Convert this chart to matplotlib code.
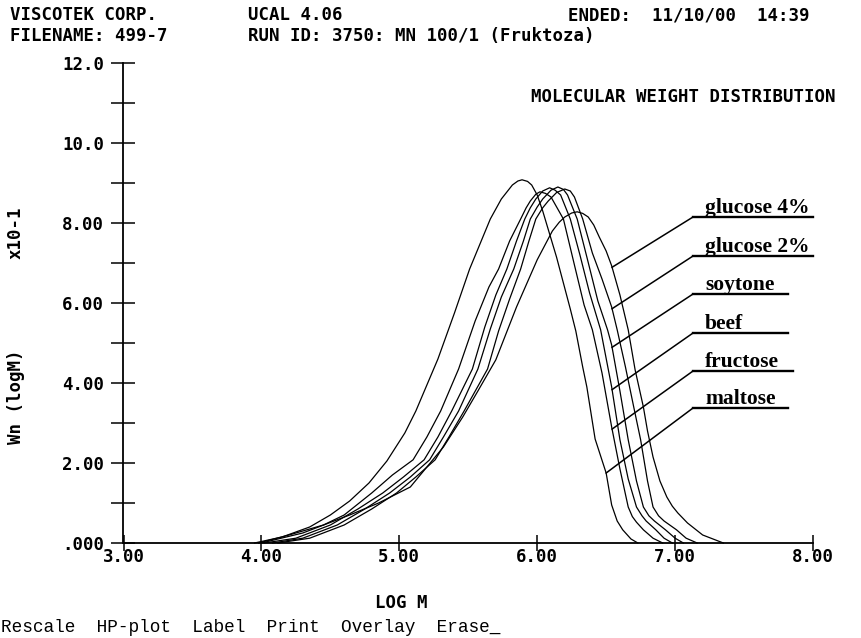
import numpy as np
import matplotlib
matplotlib.use("Agg")
import matplotlib.pyplot as plt

# ---------------- data ----------------
names = ["glucose 4%", "glucose 2%", "soytone", "beef", "fructose", "maltose"]

logm_glucose4 = [4.00, 4.30, 4.64, 4.85, 5.08, 5.20, 5.32, 5.46, 5.57, 5.70, 5.85, 6.00, 6.11, 6.16,
                 6.20, 6.25, 6.29, 6.33, 6.37, 6.41, 6.45, 6.50, 6.54, 6.60, 6.66, 6.71, 6.77, 6.80,
                 6.84, 6.89, 6.94, 6.98, 7.02, 7.09, 7.20, 7.35]
wn_glucose4 = [0.00, 0.25, 0.70, 1.00, 1.40, 1.90, 2.40, 3.15, 3.80, 4.58, 5.90, 7.08, 7.80, 8.02,
               8.15, 8.25, 8.28, 8.24, 8.15, 7.95, 7.65, 7.30, 6.93, 6.20, 5.33, 4.33, 3.40, 2.80,
               2.15, 1.55, 1.15, 0.92, 0.75, 0.50, 0.20, 0.00]

logm_glucose2 = [4.12, 4.35, 4.60, 4.80, 4.98, 5.12, 5.26, 5.36, 5.47, 5.64, 5.72, 5.80, 5.88, 5.94,
                 5.99, 6.04, 6.08, 6.14, 6.20, 6.24, 6.27, 6.33, 6.40, 6.47, 6.54, 6.58, 6.64, 6.70,
                 6.75, 6.80, 6.84, 6.88, 6.92, 7.01, 7.08, 7.16]
wn_glucose2 = [0.00, 0.12, 0.45, 0.85, 1.25, 1.65, 2.08, 2.65, 3.30, 4.35, 5.30, 6.10, 6.85, 7.55,
               8.10, 8.38, 8.55, 8.76, 8.85, 8.80, 8.65, 8.10, 7.25, 6.60, 5.90, 5.33, 4.40, 3.40,
               2.58, 1.55, 0.90, 0.68, 0.55, 0.33, 0.12, 0.00]

logm_soytone = [4.08, 4.30, 4.55, 4.75, 4.93, 5.08, 5.22, 5.32, 5.43, 5.57, 5.66, 5.74, 5.83, 5.90,
                5.95, 6.00, 6.04, 6.10, 6.15, 6.19, 6.22, 6.29, 6.36, 6.44, 6.51, 6.54, 6.60, 6.66,
                6.72, 6.77, 6.81, 6.85, 6.93, 7.00, 7.06]
wn_soytone = [0.00, 0.12, 0.45, 0.85, 1.25, 1.65, 2.08, 2.65, 3.30, 4.35, 5.35, 6.15, 6.85, 7.55,
              8.10, 8.40, 8.60, 8.82, 8.90, 8.84, 8.70, 8.10, 7.15, 6.05, 5.33, 4.95, 3.80, 2.58,
              1.55, 0.90, 0.68, 0.55, 0.33, 0.12, 0.00]

logm_beef = [4.02, 4.25, 4.50, 4.70, 4.88, 5.03, 5.18, 5.28, 5.38, 5.53, 5.62, 5.70, 5.78, 5.85,
             5.91, 5.95, 5.99, 6.04, 6.09, 6.13, 6.17, 6.24, 6.31, 6.38, 6.46, 6.54, 6.60, 6.66,
             6.72, 6.76, 6.79, 6.86, 6.92, 6.98]
wn_beef = [0.00, 0.12, 0.45, 0.85, 1.25, 1.65, 2.08, 2.65, 3.30, 4.35, 5.40, 6.20, 6.85, 7.55,
           8.10, 8.38, 8.60, 8.80, 8.88, 8.82, 8.70, 8.10, 7.20, 6.25, 5.33, 3.90, 2.58, 1.60,
           0.90, 0.68, 0.55, 0.33, 0.12, 0.00]

logm_fructose = [3.98, 4.20, 4.45, 4.60, 4.80, 4.95, 5.10, 5.20, 5.30, 5.43, 5.55, 5.65, 5.72, 5.80,
                 5.88, 5.92, 5.95, 5.99, 6.02, 6.06, 6.10, 6.19, 6.27, 6.34, 6.40, 6.47, 6.54, 6.60,
                 6.66, 6.69, 6.72, 6.77, 6.84, 6.91]
wn_fructose = [0.00, 0.20, 0.45, 0.70, 1.25, 1.70, 2.08, 2.65, 3.30, 4.35, 5.55, 6.40, 6.85, 7.55,
               8.10, 8.38, 8.55, 8.72, 8.78, 8.74, 8.65, 8.10, 6.95, 5.95, 5.33, 4.25, 2.90, 1.85,
               0.90, 0.66, 0.52, 0.33, 0.12, 0.00]

logm_maltose = [3.95, 4.15, 4.35, 4.50, 4.64, 4.78, 4.91, 5.04, 5.12, 5.20, 5.28, 5.40, 5.51, 5.60,
                5.66, 5.74, 5.82, 5.86, 5.89, 5.93, 5.96, 6.00, 6.04, 6.14, 6.24, 6.28, 6.33, 6.36,
                6.42, 6.50, 6.54, 6.58, 6.62, 6.68, 6.73]
wn_maltose = [0.00, 0.15, 0.40, 0.70, 1.05, 1.50, 2.05, 2.75, 3.30, 3.95, 4.60, 5.75, 6.85, 7.60,
              8.10, 8.60, 8.95, 9.05, 9.08, 9.04, 8.95, 8.70, 8.30, 7.15, 5.85, 5.30, 4.40, 3.90,
              2.60, 1.75, 0.95, 0.55, 0.33, 0.10, 0.00]

curves_x = [logm_glucose4, logm_glucose2, logm_soytone, logm_beef, logm_fructose, logm_maltose]
curves_y = [wn_glucose4, wn_glucose2, wn_soytone, wn_beef, wn_fructose, wn_maltose]

xticks = [3, 4, 5, 6, 7, 8]
xtick_labels = ["3.00", "4.00", "5.00", "6.00", "7.00", "8.00"]
yticks = [0, 2, 4, 6, 8, 10, 12]
ytick_labels = [".000", "2.00", "4.00", "6.00", "8.00", "10.0", "12.0"]
yminor = [1, 3, 5, 7, 9, 11]

header_texts = ["VISCOTEK CORP.", "UCAL 4.06", "ENDED:  11/10/00  14:39",
                "FILENAME: 499-7", "RUN ID: 3750: MN 100/1 (Fruktoza)"]
title_text = "MOLECULAR WEIGHT DISTRIBUTION"
menu_text = "Rescale  HP-plot  Label  Print  Overlay  Erase_"

# ---------------- figure ----------------
W, H = 861, 638
fig = plt.figure(figsize=(W / 100, H / 100), dpi=100)
fig.patch.set_facecolor("white")

def fx(px):
    return px / W

def fy(py):
    return 1 - py / H

ax = fig.add_axes([fx(123.5), fy(543), fx(813) - fx(123.5), fy(63) - fy(543)])
ax.set_xlim(3, 8)
ax.set_ylim(0, 12)
for s in ["top", "right"]:
    ax.spines[s].set_visible(False)
for s in ["left", "bottom"]:
    ax.spines[s].set_linewidth(1.3)
    ax.spines[s].set_color("black")

mono = "DejaVu Sans Mono"
ax.set_xticks(xticks)
ax.set_xticklabels(xtick_labels, fontfamily=mono, fontweight="bold", fontsize=12.5)
ax.set_yticks(yticks)
ax.set_yticklabels(ytick_labels, fontfamily=mono, fontweight="bold", fontsize=12.5)
ax.set_yticks(yminor, minor=True)
ax.tick_params(axis="y", which="both", direction="inout", length=17, width=1.1, pad=5.5)
ax.tick_params(axis="x", which="major", direction="inout", length=12, width=1.1, pad=-2.2)

for xs, ys in zip(curves_x, curves_y):
    ax.plot(xs, ys, color="black", lw=0.9, clip_on=False, solid_joinstyle="round")

# ---------------- leader lines & labels ----------------
lead_x = [6.543, 6.543, 6.543, 6.543, 6.543, 6.50]
under_y = [8.15, 7.175, 6.225, 5.25, 4.30, 3.375]
under_x0 = 7.13
under_x1 = [8.0, 8.0, 7.82, 7.82, 7.855, 7.82]
text_x = 7.217
for name, xs, ys, lx, uy, ux1 in zip(names, curves_x, curves_y, lead_x, under_y, under_x1):
    k = int(np.argmax(ys))
    dx = np.array(xs[k:])
    dy = np.array(ys[k:])
    ly = float(np.interp(lx, dx, dy))
    ax.plot([lx, under_x0], [ly, uy], color="black", lw=1.1, clip_on=False)
    ax.plot([under_x0, ux1], [uy, uy], color="black", lw=1.7, clip_on=False)
    ax.text(text_x, uy + 0.1, name, fontfamily="Liberation Serif", fontweight="bold",
            fontsize=15.5, ha="left", va="baseline")

# ---------------- header and other texts ----------------
hkw = dict(fontfamily=mono, fontweight="bold", fontsize=12.5, va="center")
fig.text(fx(10), fy(15), header_texts[0], ha="left", **hkw)
fig.text(fx(248), fy(15), header_texts[1], ha="left", **hkw)
fig.text(fx(689), fy(15), header_texts[2], ha="center", **hkw)
fig.text(fx(10), fy(36), header_texts[3], ha="left", **hkw)
fig.text(fx(248), fy(36), header_texts[4], ha="left", **hkw)
fig.text(fx(683), fy(97), title_text, ha="center", **hkw)

fig.text(fx(401), fy(603), "LOG M", ha="center", **hkw)
fig.text(fx(16), fy(397), "Wn (logM)", rotation=90, ha="center", **hkw)
fig.text(fx(16), fy(233), "x10-1", rotation=90, ha="center", **hkw)

fig.text(fx(1), fy(627), menu_text, fontfamily="Liberation Mono", fontsize=12.8,
         ha="left", va="center")

fig.savefig("out.png", dpi=100)
